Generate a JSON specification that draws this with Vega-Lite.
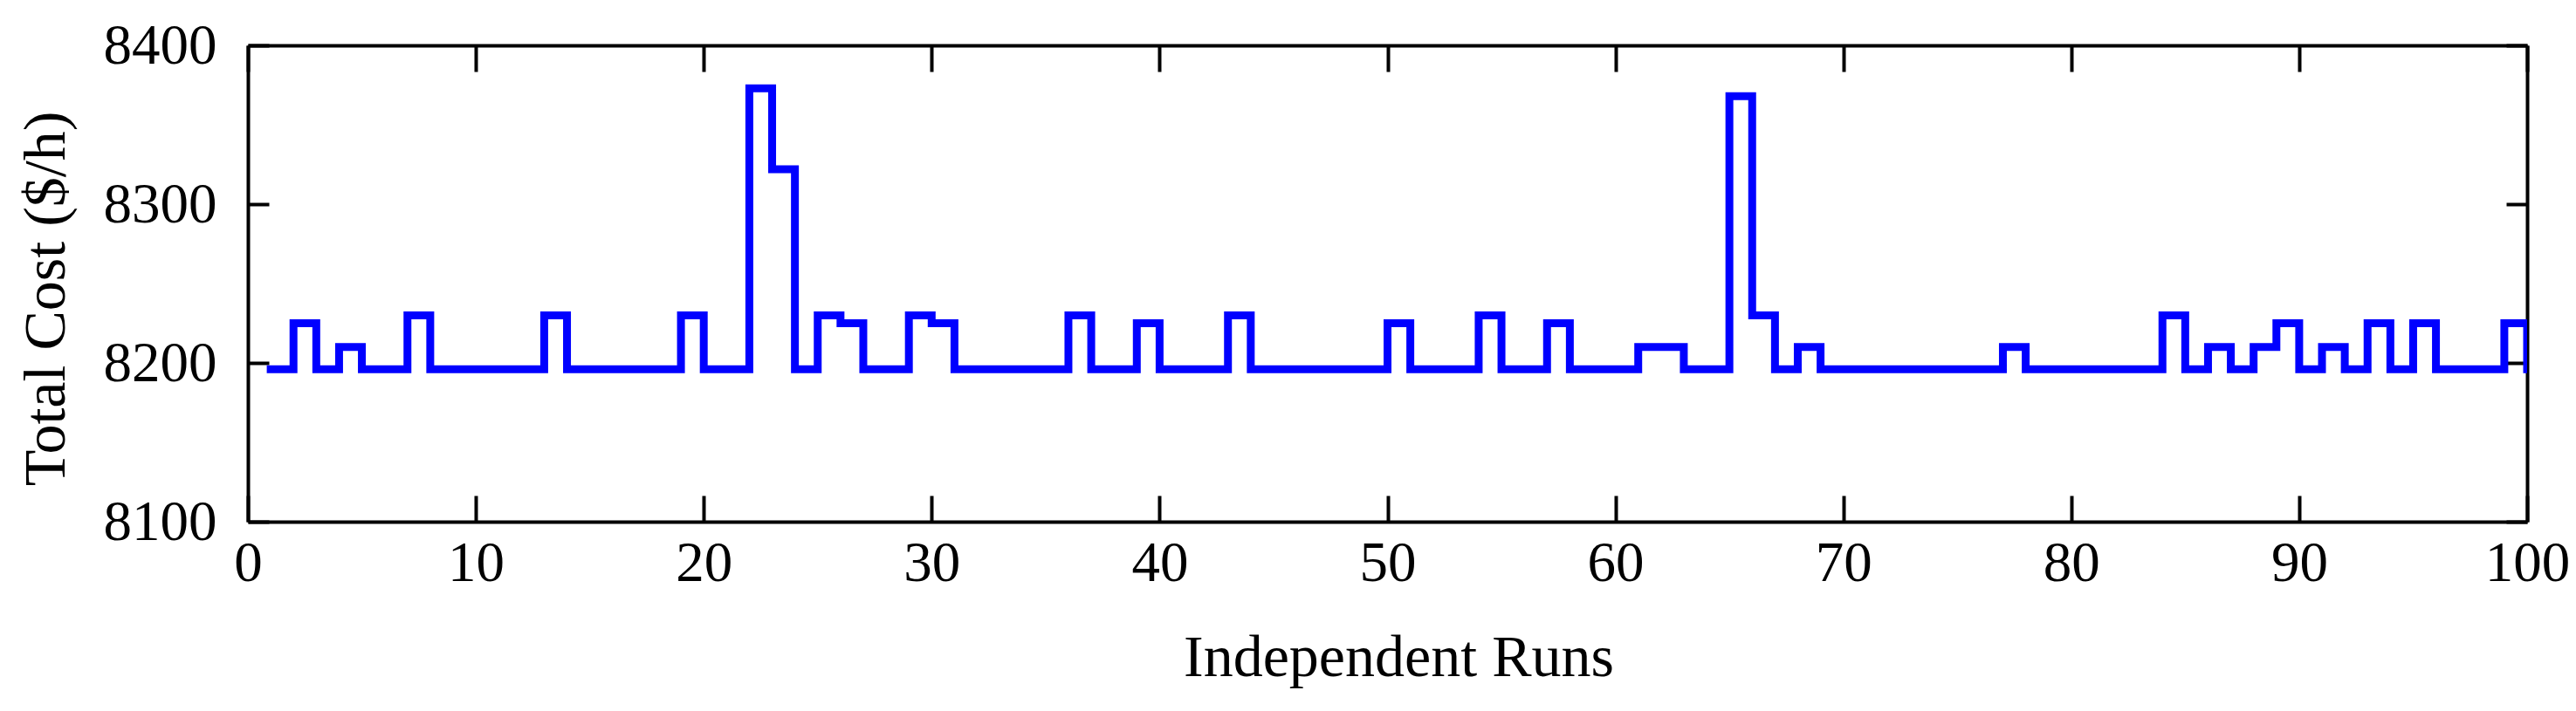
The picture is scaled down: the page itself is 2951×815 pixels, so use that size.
{
  "$schema": "https://vega.github.io/schema/vega-lite/v6.json",
  "width": 2611,
  "height": 546,
  "autosize": {"type": "none"},
  "padding": {"left": 284, "top": 52, "right": 56, "bottom": 217},
  "background": "white",
  "config": {
    "view": {"stroke": null},
    "font": "Liberation Serif",
    "axis": {
      "labelFont": "Liberation Serif",
      "titleFont": "Liberation Serif",
      "labelColor": "black",
      "titleColor": "black",
      "domainColor": "black",
      "tickColor": "black",
      "domainWidth": 4,
      "tickWidth": 4,
      "grid": false,
      "labelFontSize": 65,
      "titleFontSize": 68,
      "titleFontWeight": "normal",
      "labelFlush": false,
      "labelOverlap": false,
      "format": "d"
    }
  },
  "data": {
    "values": [
      {"run": 1, "cost": 8196}, {"run": 2, "cost": 8225}, {"run": 3, "cost": 8196}, {"run": 4, "cost": 8210},
      {"run": 5, "cost": 8196}, {"run": 6, "cost": 8196}, {"run": 7, "cost": 8230}, {"run": 8, "cost": 8196},
      {"run": 9, "cost": 8196}, {"run": 10, "cost": 8196}, {"run": 11, "cost": 8196}, {"run": 12, "cost": 8196},
      {"run": 13, "cost": 8230}, {"run": 14, "cost": 8196}, {"run": 15, "cost": 8196}, {"run": 16, "cost": 8196},
      {"run": 17, "cost": 8196}, {"run": 18, "cost": 8196}, {"run": 19, "cost": 8230}, {"run": 20, "cost": 8196},
      {"run": 21, "cost": 8196}, {"run": 22, "cost": 8373}, {"run": 23, "cost": 8322}, {"run": 24, "cost": 8196},
      {"run": 25, "cost": 8230}, {"run": 26, "cost": 8225}, {"run": 27, "cost": 8196}, {"run": 28, "cost": 8196},
      {"run": 29, "cost": 8230}, {"run": 30, "cost": 8225}, {"run": 31, "cost": 8196}, {"run": 32, "cost": 8196},
      {"run": 33, "cost": 8196}, {"run": 34, "cost": 8196}, {"run": 35, "cost": 8196}, {"run": 36, "cost": 8230},
      {"run": 37, "cost": 8196}, {"run": 38, "cost": 8196}, {"run": 39, "cost": 8225}, {"run": 40, "cost": 8196},
      {"run": 41, "cost": 8196}, {"run": 42, "cost": 8196}, {"run": 43, "cost": 8230}, {"run": 44, "cost": 8196},
      {"run": 45, "cost": 8196}, {"run": 46, "cost": 8196}, {"run": 47, "cost": 8196}, {"run": 48, "cost": 8196},
      {"run": 49, "cost": 8196}, {"run": 50, "cost": 8225}, {"run": 51, "cost": 8196}, {"run": 52, "cost": 8196},
      {"run": 53, "cost": 8196}, {"run": 54, "cost": 8230}, {"run": 55, "cost": 8196}, {"run": 56, "cost": 8196},
      {"run": 57, "cost": 8225}, {"run": 58, "cost": 8196}, {"run": 59, "cost": 8196}, {"run": 60, "cost": 8196},
      {"run": 61, "cost": 8210}, {"run": 62, "cost": 8210}, {"run": 63, "cost": 8196}, {"run": 64, "cost": 8196},
      {"run": 65, "cost": 8368}, {"run": 66, "cost": 8230}, {"run": 67, "cost": 8196}, {"run": 68, "cost": 8210},
      {"run": 69, "cost": 8196}, {"run": 70, "cost": 8196}, {"run": 71, "cost": 8196}, {"run": 72, "cost": 8196},
      {"run": 73, "cost": 8196}, {"run": 74, "cost": 8196}, {"run": 75, "cost": 8196}, {"run": 76, "cost": 8196},
      {"run": 77, "cost": 8210}, {"run": 78, "cost": 8196}, {"run": 79, "cost": 8196}, {"run": 80, "cost": 8196},
      {"run": 81, "cost": 8196}, {"run": 82, "cost": 8196}, {"run": 83, "cost": 8196}, {"run": 84, "cost": 8230},
      {"run": 85, "cost": 8196}, {"run": 86, "cost": 8210}, {"run": 87, "cost": 8196}, {"run": 88, "cost": 8210},
      {"run": 89, "cost": 8225}, {"run": 90, "cost": 8196}, {"run": 91, "cost": 8210}, {"run": 92, "cost": 8196},
      {"run": 93, "cost": 8225}, {"run": 94, "cost": 8196}, {"run": 95, "cost": 8225}, {"run": 96, "cost": 8196},
      {"run": 97, "cost": 8196}, {"run": 98, "cost": 8196}, {"run": 99, "cost": 8225}, {"run": 100, "cost": 8196}
    ]
  },
  "resolve": {"axis": {"x": "independent", "y": "independent"}},
  "layer": [
    {
      "mark": {"type": "line", "interpolate": "step-after", "color": "#0000FF", "strokeWidth": 9, "strokeCap": "square", "strokeJoin": "miter", "clip": true},
      "encoding": {
        "x": {
          "field": "run", "type": "quantitative",
          "scale": {"domain": [0, 100], "nice": false, "zero": false},
          "axis": {
            "orient": "bottom", "title": "Independent Runs", "format": "d",
            "values": [0, 10, 20, 30, 40, 50, 60, 70, 80, 90, 100],
            "tickSize": -30, "labelPadding": 97, "labelBaseline": "alphabetic",
            "titleX": 1318, "titleY": 176, "titleBaseline": "alphabetic", "titleAnchor": null, "titleAlign": "center"
          }
        },
        "y": {
          "field": "cost", "type": "quantitative",
          "scale": {"domain": [8100, 8400], "nice": false, "zero": false},
          "axis": {
            "orient": "left", "title": "Total Cost ($/h)", "format": "d",
            "values": [8100, 8200, 8300, 8400],
            "tickSize": -24, "labelPadding": 60,
            "titleX": -211, "titleY": 290, "titleBaseline": "alphabetic", "titleAngle": -90, "titleAlign": "center"
          }
        }
      }
    },
    {
      "mark": {"type": "line", "interpolate": "step-after", "strokeOpacity": 0},
      "encoding": {
        "x": {
          "field": "run", "type": "quantitative",
          "axis": {"orient": "top", "title": null, "labels": false, "tickSize": -30,
                   "values": [0, 10, 20, 30, 40, 50, 60, 70, 80, 90, 100]}
        },
        "y": {
          "field": "cost", "type": "quantitative",
          "axis": {"orient": "right", "title": null, "labels": false, "tickSize": -24,
                   "values": [8100, 8200, 8300, 8400]}
        }
      }
    }
  ]
}
